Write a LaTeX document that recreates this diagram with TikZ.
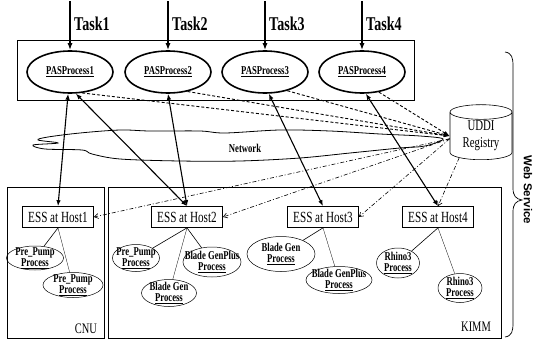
\documentclass[tikz,border=0pt]{standalone}
\usepackage{fontspec}
\setmainfont{Liberation Serif}[FakeStretch=0.72]
\newfontfamily\wsfont{Liberation Sans}
\usetikzlibrary{arrows.meta, positioning, shapes.geometric}

\tikzset{
  pas/.style={ellipse, draw, line width=1.6pt, minimum width=86pt, minimum height=42pt,
    inner sep=0pt, font=\fontsize{12}{14}\selectfont\bfseries},
  tasklbl/.style={anchor=west, inner sep=0pt, font=\fontsize{19.5}{21}\selectfont\bfseries},
  taskarrow/.style={-{Latex[length=7pt,width=5pt]}, line width=1.8pt},
  ess/.style={rectangle, draw, line width=0.7pt, minimum width=71pt, minimum height=21pt,
    inner sep=1pt, font=\fontsize{15.5}{17}\selectfont},
  proc/.style={ellipse, draw, line width=0.5pt, inner sep=0pt},
  plbl/.style={align=center, inner sep=0pt, font=\fontsize{12}{11}\selectfont\bfseries},
  frame/.style={draw, line width=0.6pt},
  call/.style={{Latex[length=6pt,width=4.5pt]}-{Latex[length=6pt,width=4.5pt]}, line width=1.1pt},
  lookup/.style={-{Latex[length=6pt,width=4pt]}, line width=0.9pt, dash pattern=on 3pt off 2pt},
  bind/.style={-{Straight Barb[length=4pt,width=5pt]}, line width=0.6pt,
    dash pattern=on 4pt off 2pt on 1pt off 2pt},
  sub/.style={line width=0.6pt}
}

\begin{document}
\begin{tikzpicture}[x=1pt, y=-1pt]
  \useasboundingbox (0,0) rectangle (533,348);

  % 网络云
  \draw[line width=0.8pt] plot[smooth cycle, tension=0.55] coordinates {
    (443,139) (420,136) (380,134) (330,131) (280,130) (225,133) (200,131)
    (150,131) (120,130) (80,133) (48,137) (38,140) (58,143) (33,145)
    (45,149) (82,150) (92,154) (120,159) (180,161) (240,161) (300,158)
    (350,153) (400,148) (425,146)};
  \node[font=\fontsize{12}{12}\selectfont\bfseries] (net) at (245,148) {Network};

  % 外框
  \draw[frame] (17,40) rectangle (414,100);
  \draw[frame] (7,187) rectangle (104,338);
  \draw[frame] (108,187) rectangle (501,338);
  \node[font=\fontsize{14.5}{15}\selectfont] (cnu) at (86,329) {CNU};
  \node[font=\fontsize{14.5}{15}\selectfont] (kimm) at (476,327) {KIMM};

  % 任务与PAS进程
  \foreach \i/\x in {1/70,2/168,3/265,4/362} {
    \coordinate (t\i) at (\x,1);
    \node[pas] (pas\i) at (\x,72) {\underline{PASProcess\i}};
    \node[tasklbl] (task\i) at (\x+4,24) {Task\i};
    \draw[taskarrow] (t\i) -- (pas\i.north);
  }

  % UDDI
  \node[cylinder, draw, shape border rotate=90, aspect=0.4, minimum width=62pt,
    minimum height=55pt, line width=0.6pt, inner sep=0pt, align=center,
    font=\fontsize{15}{17}\selectfont] (uddi) at (481,136) {UDDI\\Registry};

  % ESS 主机
  \foreach \i/\x in {1/58,2/187,3/323,4/438} {
    \node[ess] (ess\i) at (\x,217) {ESS at Host\i};
  }

  % 进程
  \node[proc, minimum width=57pt, minimum height=24pt,
    label={[plbl]center:Pre\_Pump\\\underline{Process}}] (c1) at (35,258) {};
  \node[proc, minimum width=60pt, minimum height=25pt,
    label={[plbl]center:Pre\_Pump\\\underline{Process}}] (c2) at (73,285) {};
  \node[proc, minimum width=47pt, minimum height=27pt,
    label={[plbl]center:Pre\_Pump\\\underline{Process}}] (k1) at (136,258) {};
  \node[proc, minimum width=58pt, minimum height=30pt,
    label={[plbl]center:Blade GenPlus\\\underline{Process}}] (k2) at (212,262) {};
  \node[proc, minimum width=55pt, minimum height=27pt,
    label={[plbl]center:Blade Gen\\\underline{Process}}] (k3) at (169,293) {};
  \node[proc, minimum width=68pt, minimum height=35pt,
    label={[plbl]center:Blade Gen\\\underline{Process}}] (k4) at (281,254) {};
  \node[proc, minimum width=66pt, minimum height=27pt,
    label={[plbl]center:Blade GenPlus\\\underline{Process}}] (k5) at (339,280) {};
  \node[proc, minimum width=43pt, minimum height=30pt,
    label={[plbl]center:Rhino3\\\underline{Process}}] (k6) at (398,263) {};
  \node[proc, minimum width=44pt, minimum height=29pt,
    label={[plbl]center:Rhino3\\\underline{Process}}] (k7) at (460,288) {};

  \draw[sub] (ess1.south) -- (c1);
  \draw[sub, line width=0.3pt] (ess1.south) -- (c2);
  \draw[sub] (ess2.south) -- (k1);
  \draw[sub] (ess2.south) -- (k2);
  \draw[sub, line width=0.3pt] (ess2.south) -- (k3);
  \draw[sub] (ess3.south) -- (k4);
  \draw[sub, line width=0.3pt] (ess3.south) -- (k5);
  \draw[sub] (ess4.south) -- (k6);
  \draw[sub, line width=0.3pt] (ess4.south) -- (k7);

  % 调用
  \draw[call] (pas1.-95) -- (ess1.north);
  \draw[call] (pas1.-75) -- (ess2.north);
  \draw[call] (pas2.south) -- (ess2.north);
  \draw[call] (pas3.-80) -- (ess3.north);
  \draw[call] (pas4.-80) -- (ess4.north);

  % 查找与注册
  \draw[lookup] (pas1.-60) -- (uddi.180);
  \draw[lookup] (pas2.-45) -- (uddi.180);
  \draw[lookup] (pas3.-40) -- (uddi.180);
  \draw[lookup] (pas4.-50) -- (uddi.180);
  \draw[bind] (uddi.185) -- (ess1.east);
  \draw[bind] (uddi.185) -- (ess2.east);
  \draw[bind] (uddi.185) -- (ess3.east);
  \draw[bind] (uddi.225) -- (ess4.north);

  % Web Service
  \draw[line width=0.7pt] (505,52) .. controls (512,53) and (513,58) .. (513,66)
    -- (513,188) .. controls (513,196) and (516,199) .. (522,200)
    .. controls (516,201) and (513,204) .. (513,212)
    -- (513,323) .. controls (513,331) and (512,336) .. (505,337);
  \node[rotate=-90, inner sep=0pt, font=\wsfont\bfseries\fontsize{11.5}{12}\selectfont]
    (ws) at (528,190) {Web Service};
\end{tikzpicture}
\end{document}
